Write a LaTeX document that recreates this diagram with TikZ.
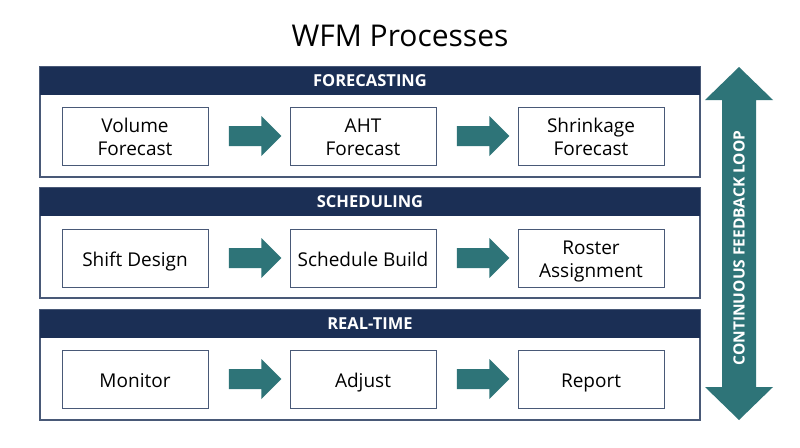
\documentclass[tikz,border=0pt]{standalone}
\usepackage{fontspec}
\setmainfont{Open Sans}
\begin{document}
\begin{tikzpicture}[x=1pt,y=-1pt,
 hdr/.style={text=white,font=\fontsize{16.5}{18}\selectfont\bfseries},
 body/.style={draw=navy!80,line width=1.2pt,fill=white},
 box/.style={draw=navy!80,line width=1pt,fill=white,minimum width=146pt,minimum height=58pt,align=center,font=\fontsize{19}{23}\selectfont,inner sep=0pt,text depth=0pt},
 arr/.style={fill=teal1,draw=none}]
\definecolor{navy}{HTML}{1B2F55}
\definecolor{teal1}{HTML}{2E7478}
\useasboundingbox (0,0) rectangle (800,447);
\fill[white] (0,0) rectangle (800,447);
\node[font=\fontsize{30}{34}\selectfont] (title) at (400,36) {WFM Processes};
\foreach \t/\y/\n in {FORECASTING/67/f,SCHEDULING/188/s,REAL-TIME/310/r}{
  \draw[body] (40,\y) rectangle (700,\y+110);
  \fill[navy] (40,\y) rectangle (700,\y+28);
  \node[hdr] (h\n) at (370,\y+14) {\t};
}
\newcommand{\stepbox}[4]{\node[box] (#1) at (#2,#3) {\strut #4\strut};}
\stepbox{f1}{135}{136}{Volume\\Forecast}
\stepbox{f2}{363}{136}{AHT\\Forecast}
\stepbox{f3}{591}{136}{Shrinkage\\Forecast}
\stepbox{s1}{135}{258}{Shift Design}
\stepbox{s2}{363}{258}{Schedule Build}
\stepbox{s3}{591}{258}{Roster\\Assignment}
\stepbox{r1}{135}{379}{Monitor}
\stepbox{r2}{363}{379}{Adjust}
\stepbox{r3}{591}{379}{Report}
\newcommand{\blockarrow}[2]{%
 \path (#1.east) -- (#2.west) coordinate[pos=0.25] (a) coordinate[pos=0.9] (b);
 \fill[teal1] ([yshift=-10]a) -- ([xshift=-20,yshift=-10]b) -- ([xshift=-20,yshift=-20]b) -- (b) -- ([xshift=-20,yshift=20]b) -- ([xshift=-20,yshift=10]b) -- ([yshift=10]a) -- cycle;}
\blockarrow{f1}{f2}\blockarrow{f2}{f3}
\blockarrow{s1}{s2}\blockarrow{s2}{s3}
\blockarrow{r1}{r2}\blockarrow{r2}{r3}
\coordinate (lt) at (739,67);
\coordinate (lb) at (739,420);
\fill[teal1] (lt) -- (773,100) -- (756,100) -- (756,387) -- (773,387) -- (lb) -- (705,387) -- (722,387) -- (722,100) -- (705,100) -- cycle;
\node[rotate=90,text=white,font=\fontsize{15.5}{17}\selectfont\bfseries] (loop) at (739,248) {CONTINUOUS FEEDBACK LOOP};
\end{tikzpicture}
\end{document}
